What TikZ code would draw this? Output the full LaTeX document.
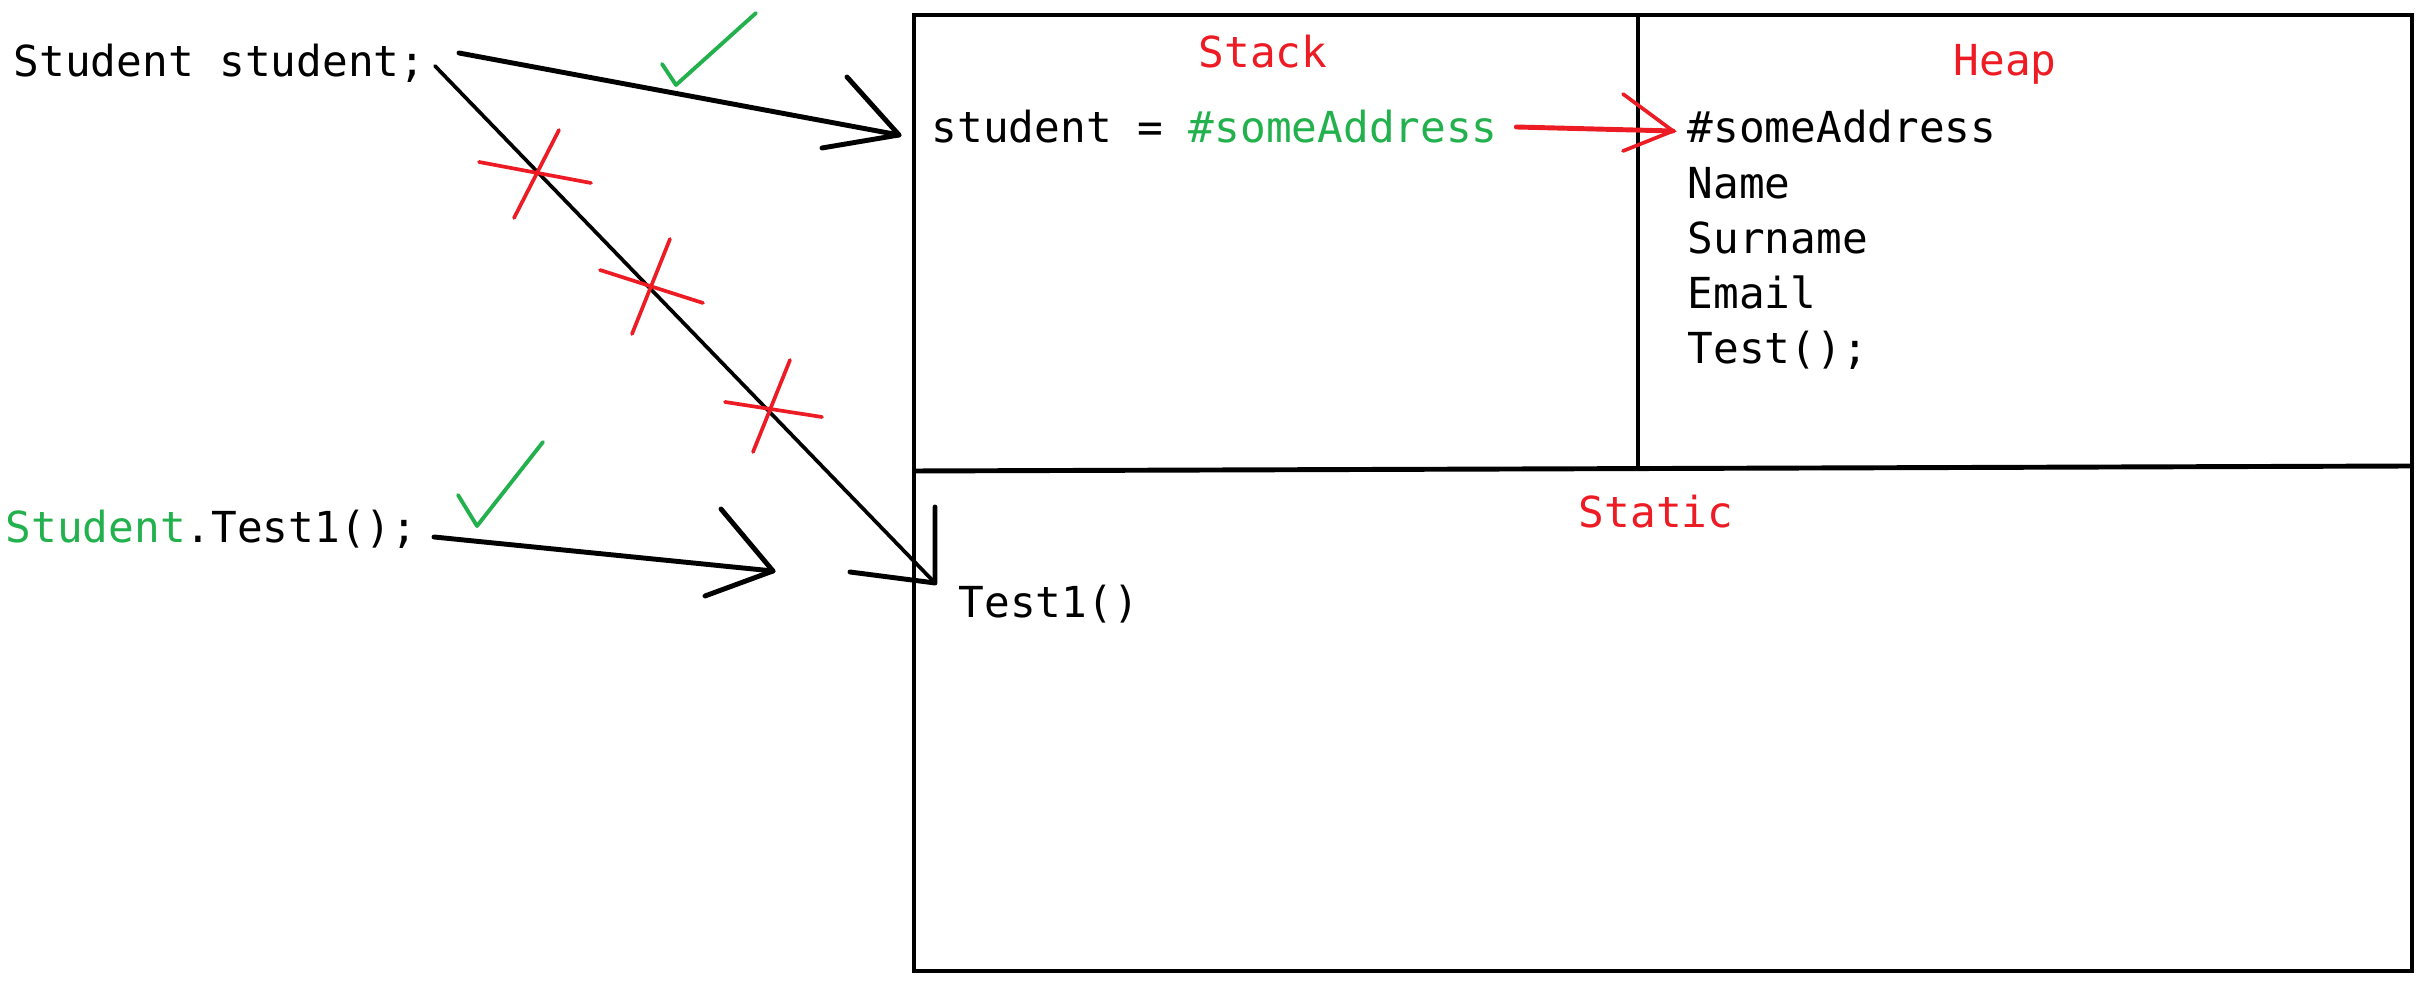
\documentclass[tikz,border=0pt]{standalone}
\usepackage{fontspec}
\usepackage{tikz}
\usetikzlibrary{
  positioning, % for the heap list
}
\newfontfamily\codefont{DejaVu Sans Mono}
\definecolor{paintred}{RGB}{237,28,36}
\definecolor{paintgreen}{RGB}{34,177,76}
\tikzset{
  codetext/.style={font=\codefont\fontsize{12.15pt}{14pt}\selectfont, inner sep=0pt, anchor=base west},
  areaname/.style={codetext, text=paintred, anchor=base},
  wall/.style={line width=1.4pt},
  stroke/.style={line width=1.4pt, line cap=round, line join=round},
  thinstroke/.style={line width=1.05pt, line cap=round},
  cross/.style={paintred, line width=1.05pt, line cap=round},
  tick/.style={paintgreen, line width=1.1pt, line cap=round, line join=round},
}

\begin{document}
\begin{tikzpicture}[x=0.01cm, y=-0.01cm]
              \useasboundingbox (0,0) rectangle (2430,1004);
              % memory
              \draw[wall] (914,15) rectangle (2412,971);
              \draw[wall] (914,471) -- (2412,466);
              \draw[line width=1.05pt] (1638,15) -- (1638,469);
              \node[areaname] (stk) at (1263,68) {Stack};
              \node[areaname] (hp) at (2005,76) {Heap};
              \node[areaname] (stc) at (1656,528) {Static};

              \node[codetext] (decl) at (13,77) {Student student;};
              \node[codetext] (call) at (5,543) {\textcolor{paintgreen}{Student}.Test1();};
              \node[codetext] (ref) at (931,143) {student = \textcolor{paintgreen}{\#someAddress}};
              \node[codetext] (addr) at (1687,143) {\#someAddress};
              \node[codetext, below=0.55cm of addr.base west, anchor=base west] (nm) {Name};
              \node[codetext, below=0.55cm of nm.base west, anchor=base west] (snm) {Surname};
              \node[codetext, below=0.55cm of snm.base west, anchor=base west] (eml) {Email};
              \node[codetext, below=0.55cm of eml.base west, anchor=base west] (tst) {Test();};
              \node[codetext] (fn) at (958,618) {Test1()};

              % arrows
              \draw[stroke] ([shift={(33,-24)}]decl.base east) -- ([shift={(-32,-8)}]ref.base west) coordinate (t1);
              \draw[stroke] (t1) ++(-52,-58) -- (t1) -- ++(-77,13);
              \draw[stroke] ([shift={(16,-6)}]call.base east) -- ++(339,34) coordinate (t2);
              \draw[stroke] (t2) ++(-52,-62) -- (t2) -- ++(-68,25);
              \draw[thinstroke] ([shift={(9,-11)}]decl.base east) -- ([shift={(-23,-35)}]fn.base west) coordinate (t3);
              \draw[stroke] (t3) ++(-85,-11) -- (t3) -- ++(0,-76);
              \draw[stroke, paintred] ([shift={(18,-16)}]ref.base east) -- ([shift={(-14,-12)}]addr.base west) coordinate (t4);
              \draw[thinstroke, paintred] (t4) ++(-50,-37) -- (t4) -- ++(-50,20);

              \draw[tick] (662,64) -- (676,85) -- (756,13);
              \draw[tick] (458,495) -- (477,526) -- (543,442);
              \foreach \a/\b/\c/\d/\e/\f/\g/\h in {479/162/591/183/559/130/514/218,
                600/270/703/303/670/239/632/334, 725/402/822/417/790/360/753/452}
                \draw[cross] (\a,\b) -- (\c,\d) (\e,\f) -- (\g,\h);
            \end{tikzpicture}
\end{document}
